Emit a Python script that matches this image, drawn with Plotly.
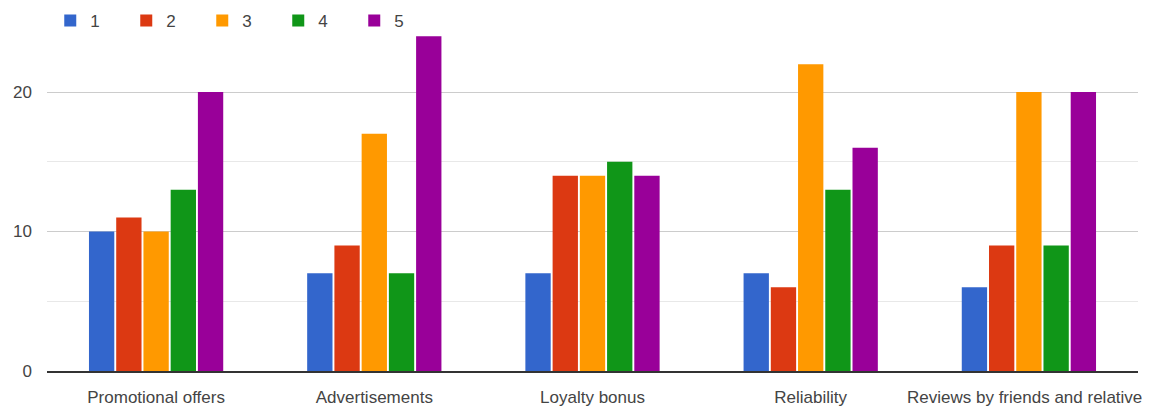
import plotly.graph_objects as go

categories = ["Promotional offers", "Advertisements", "Loyalty bonus", "Reliability",
              "Reviews by friends and relatives"]
series_names = ["1", "2", "3", "4", "5"]
s1 = [10, 7, 7, 7, 6]
s2 = [11, 9, 14, 6, 9]
s3 = [10, 17, 14, 22, 20]
s4 = [13, 7, 15, 13, 9]
s5 = [20, 24, 14, 16, 20]
series_values = [s1, s2, s3, s4, s5]
colors = ["#3366cc", "#dc3912", "#ff9900", "#109618", "#990099"]
y_ticks = [0, 10, 20]

FONT = "Liberation Sans, Arial, sans-serif"

fig = go.Figure()
for name, vals, col in zip(series_names, series_values, colors):
    fig.add_trace(go.Bar(x=categories, y=vals, name=name, marker=dict(color=col, line=dict(width=0))))

fig.update_layout(
    width=1142, height=404,
    margin=dict(l=39, r=12, t=14, b=41, autoexpand=False),
    paper_bgcolor="white", plot_bgcolor="white",
    barmode="group", bargap=0.376, bargroupgap=0.07,
    font=dict(family=FONT, size=17, color="#444"),
    showlegend=True,
    legend=dict(orientation="h", xref="container", yref="container", x=0.037, y=0.968,
                xanchor="left", yanchor="middle", font=dict(size=17, color="#444"),
                entrywidth=31, entrywidthmode="pixels", bgcolor="rgba(255,255,255,0)",
                traceorder="normal"),
)
fig.update_xaxes(showline=True, linecolor="#333", linewidth=1.5, ticks="", showgrid=False,
                 automargin=False, tickfont=dict(size=17, color="#444"), ticklabelstandoff=10)
fig.update_yaxes(range=[0, 25.02], tickvals=y_ticks, showgrid=True, gridcolor="#cccccc", gridwidth=1,
                 automargin=False, zeroline=False, ticks="", tickfont=dict(size=17, color="#444"),
                 ticklabelstandoff=14,
                 minor=dict(dtick=5, tick0=0, showgrid=True, gridcolor="#e8e8e8", gridwidth=1))

fig.write_html("out.html")
